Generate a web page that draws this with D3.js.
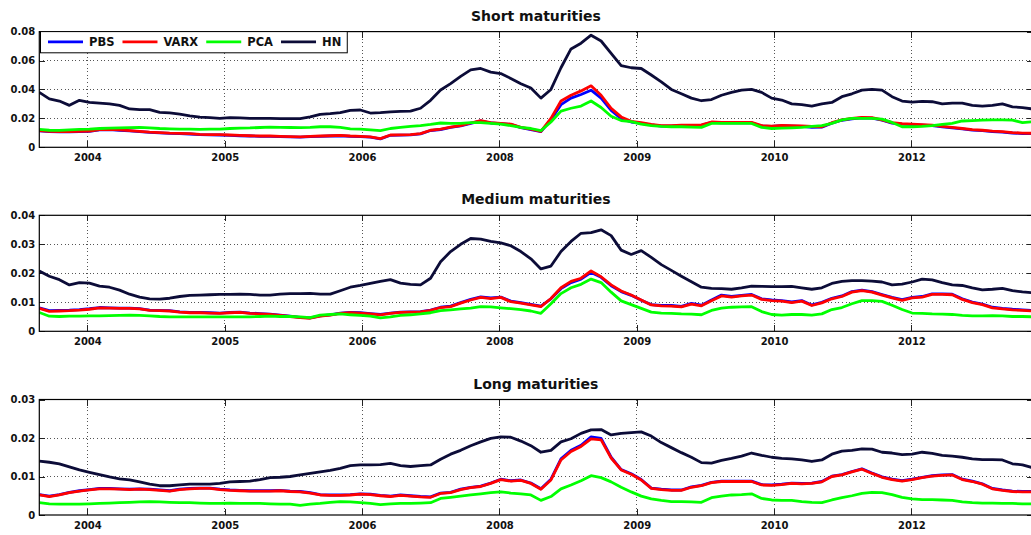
<!DOCTYPE html>
<html><head><meta charset="utf-8">
<script src="https://cdn.jsdelivr.net/npm/d3@7"></script>
<style>
html,body{margin:0;padding:0;background:#fff;}
svg{display:block;font-family:"DejaVu Sans",sans-serif;font-weight:bold;}
</style></head>
<body><svg id="chart" width="1031" height="535"></svg>
<script>
// ---------- DATA ----------
const seriesNames = ["PBS", "VARX", "PCA", "HN"];
const panelTitles = ["Short maturities", "Medium maturities", "Long maturities"];
const xTickPos = [4.79, 18.48, 32.17, 45.86, 59.55, 73.24, 86.93];
const xTickLabels = ["2004", "2005", "2006", "2008", "2009", "2010", "2012"];
const yTicksShort = [0, 0.02, 0.04, 0.06, 0.08];
const yTicksMedium = [0, 0.01, 0.02, 0.03, 0.04];
const yTicksLong = [0, 0.01, 0.02, 0.03];
const yTickLabelsShort = ["0", "0.02", "0.04", "0.06", "0.08"];
const yTickLabelsMedium = ["0", "0.01", "0.02", "0.03", "0.04"];
const yTickLabelsLong = ["0", "0.01", "0.02", "0.03"];

const shortPBS = [
0.0113,0.0108,0.0106,0.0106,0.0108,0.011,0.012,0.0122,0.0118,0.0113,
0.0108,0.0103,0.01,0.0096,0.0094,0.0092,0.0088,0.0086,0.0085,0.0083,
0.008,0.0078,0.0076,0.0076,0.0074,0.0072,0.007,0.0074,0.0076,0.0078,
0.008,0.0076,0.0074,0.007,0.0058,0.0083,0.0084,0.0086,0.0093,0.0116,
0.0123,0.0138,0.0148,0.0166,0.0183,0.0168,0.0163,0.0158,0.0136,0.0123,
0.0108,0.019,0.0295,0.034,0.0365,0.0395,0.034,0.0255,0.0198,0.0175,
0.0166,0.0155,0.0147,0.0147,0.0151,0.0151,0.0152,0.0172,0.0169,0.0169,
0.0169,0.0169,0.0147,0.0144,0.0149,0.0147,0.0145,0.0138,0.0139,0.0167,
0.0187,0.0197,0.0204,0.0202,0.0187,0.0167,0.016,0.0157,0.0153,0.015,
0.0142,0.0135,0.0127,0.0119,0.0115,0.0109,0.0105,0.0099,0.0095,0.0094];
const shortVARX = [
0.0115,0.011,0.0108,0.0108,0.011,0.0112,0.0122,0.0124,0.012,0.0115,
0.011,0.0105,0.0102,0.0098,0.0096,0.0094,0.009,0.0088,0.0087,0.0085,
0.0082,0.008,0.0078,0.0078,0.0076,0.0074,0.0072,0.0076,0.0078,0.008,
0.0082,0.0078,0.0076,0.0072,0.006,0.0085,0.0086,0.0088,0.0095,0.0118,
0.0125,0.014,0.015,0.0168,0.0185,0.017,0.0165,0.016,0.0138,0.0125,
0.011,0.020,0.032,0.036,0.039,0.0425,0.036,0.027,0.021,0.018,
0.017,0.0158,0.015,0.015,0.0154,0.0154,0.0155,0.0175,0.0172,0.0172,
0.0172,0.0172,0.015,0.0147,0.0152,0.015,0.0148,0.0145,0.0142,0.017,
0.019,0.020,0.0207,0.0205,0.019,0.017,0.0163,0.016,0.0156,0.0153,
0.0145,0.0138,0.013,0.0122,0.0118,0.0112,0.0108,0.0102,0.0098,0.0097];
const shortPCA = [
0.0124,0.0118,0.0117,0.012,0.0124,0.0126,0.013,0.0132,0.0134,0.0136,
0.0138,0.0135,0.013,0.0128,0.0126,0.0125,0.0124,0.0125,0.0126,0.013,
0.0133,0.0134,0.0137,0.014,0.0138,0.0137,0.0136,0.0138,0.0142,0.0142,
0.0138,0.0128,0.0125,0.012,0.0115,0.013,0.0138,0.0145,0.015,0.0158,
0.0168,0.0166,0.0165,0.017,0.017,0.0165,0.016,0.015,0.0138,0.013,
0.0115,0.0175,0.025,0.027,0.0285,0.032,0.0275,0.0215,0.0185,0.0177,
0.016,0.015,0.0145,0.0142,0.0142,0.014,0.0138,0.0165,0.0166,0.0165,
0.0165,0.0165,0.0138,0.013,0.0132,0.0135,0.0138,0.0145,0.015,0.0165,
0.019,0.020,0.020,0.020,0.0195,0.0172,0.0142,0.0142,0.0145,0.015,
0.0158,0.0165,0.0182,0.0185,0.0188,0.0189,0.0189,0.0188,0.017,0.0177];
const shortHN = [
0.038,0.0335,0.032,0.029,0.0325,0.031,0.0305,0.030,0.029,0.0265,
0.026,0.026,0.0242,0.0238,0.023,0.0218,0.0208,0.0205,0.020,0.0205,
0.0203,0.020,0.020,0.020,0.0198,0.0198,0.0198,0.021,0.0228,0.0233,
0.024,0.0255,0.0258,0.0237,0.024,0.0245,0.0248,0.025,0.027,0.0325,
0.0396,0.044,0.049,0.0535,0.0545,0.052,0.051,0.0476,0.044,0.041,
0.034,0.040,0.055,0.068,0.072,0.0775,0.0735,0.065,0.0565,0.055,
0.0545,0.050,0.0453,0.040,0.037,0.034,0.0322,0.033,0.036,0.038,
0.0396,0.040,0.038,0.034,0.0327,0.030,0.0295,0.0285,0.030,0.031,
0.035,0.037,0.0395,0.040,0.0395,0.035,0.032,0.0312,0.0318,0.0315,
0.030,0.0305,0.0305,0.029,0.0285,0.029,0.030,0.028,0.0275,0.0265];

const mediumPBS = [
0.0081,0.0071,0.0072,0.0073,0.0075,0.0078,0.0082,0.0081,0.008,0.008,
0.0078,0.0073,0.0072,0.0071,0.0067,0.0065,0.0065,0.0064,0.0063,0.0065,
0.0066,0.0063,0.0061,0.0059,0.0056,0.0052,0.0048,0.0046,0.0053,0.0057,
0.0063,0.0065,0.0064,0.0061,0.0058,0.0063,0.0066,0.0067,0.0068,0.0073,
0.0083,0.0087,0.0099,0.011,0.0119,0.0115,0.0118,0.0104,0.0099,0.0093,
0.0087,0.0112,0.0147,0.0168,0.018,0.0203,0.0186,0.0157,0.0137,0.0124,
0.0107,0.0092,0.0089,0.0089,0.0086,0.0096,0.009,0.0108,0.0125,0.012,
0.0124,0.0127,0.0112,0.0108,0.0106,0.0101,0.0106,0.0091,0.01,0.0114,
0.0122,0.0137,0.0142,0.0137,0.0127,0.0117,0.0109,0.0117,0.012,0.0129,
0.0129,0.0128,0.0112,0.0101,0.0094,0.0083,0.0079,0.0076,0.0074,0.0072];
const mediumVARX = [
0.0079,0.0069,0.007,0.0071,0.0073,0.0076,0.0081,0.008,0.0079,0.0079,
0.0077,0.0072,0.0071,0.007,0.0066,0.0064,0.0064,0.0063,0.0062,0.0064,
0.0065,0.0062,0.006,0.0058,0.0055,0.0051,0.0047,0.0045,0.0052,0.0056,
0.0062,0.0064,0.0063,0.006,0.0057,0.0062,0.0065,0.0066,0.0067,0.0072,
0.0082,0.0085,0.0097,0.0108,0.0117,0.0113,0.0117,0.0102,0.0097,0.0091,
0.0085,0.0113,0.015,0.0172,0.0183,0.0208,0.0188,0.016,0.0139,0.0125,
0.0108,0.0091,0.0088,0.0087,0.0084,0.0094,0.0088,0.0105,0.0122,0.0118,
0.0122,0.0125,0.011,0.0106,0.0104,0.0099,0.0104,0.0089,0.0098,0.0112,
0.012,0.0135,0.014,0.0135,0.0125,0.0115,0.0107,0.0115,0.0118,0.0127,
0.0127,0.0126,0.011,0.0099,0.0092,0.0081,0.0077,0.0074,0.0072,0.007];
const mediumPCA = [
0.0065,0.0052,0.0051,0.0052,0.0052,0.0053,0.0053,0.0054,0.0055,0.0056,
0.0055,0.0053,0.0051,0.005,0.005,0.005,0.005,0.005,0.005,0.005,
0.005,0.005,0.0051,0.0052,0.0051,0.0051,0.005,0.0047,0.0056,0.0058,
0.006,0.0057,0.0055,0.0052,0.0046,0.005,0.0055,0.0057,0.006,0.0064,
0.0071,0.0074,0.0077,0.008,0.0085,0.0084,0.0081,0.0078,0.0075,0.007,
0.0062,0.0095,0.013,0.015,0.0162,0.018,0.0168,0.0135,0.0105,0.0092,
0.0079,0.0066,0.0063,0.0062,0.006,0.0059,0.0057,0.0072,0.008,0.0083,
0.0084,0.0085,0.0068,0.0058,0.0056,0.0058,0.0058,0.0056,0.006,0.0075,
0.0082,0.0095,0.0106,0.0106,0.0103,0.009,0.0075,0.0063,0.0062,0.006,
0.0059,0.0058,0.0055,0.0053,0.0053,0.0054,0.0053,0.0051,0.0051,0.005];
const mediumHN = [
0.0208,0.019,0.0178,0.016,0.0168,0.0166,0.0156,0.0152,0.0142,0.0128,
0.0118,0.0112,0.0111,0.0114,0.012,0.0124,0.0125,0.0126,0.0127,0.0127,
0.0128,0.0127,0.0125,0.0125,0.0128,0.013,0.013,0.0131,0.0128,0.0128,
0.014,0.0152,0.0158,0.0165,0.0172,0.0178,0.0166,0.0162,0.016,0.0183,
0.024,0.0275,0.030,0.032,0.0318,0.031,0.0305,0.0295,0.0275,0.025,
0.0215,0.0225,0.0275,0.031,0.0338,0.034,0.035,0.033,0.028,0.0265,
0.0278,0.0255,0.023,0.021,0.019,0.0171,0.0152,0.0148,0.0147,0.0145,
0.015,0.0156,0.0155,0.0154,0.0154,0.0155,0.015,0.0145,0.015,0.0165,
0.0172,0.0175,0.0175,0.0173,0.017,0.016,0.0163,0.017,0.018,0.0177,
0.0168,0.016,0.0158,0.015,0.0143,0.0145,0.0148,0.014,0.0136,0.0133];

const longPBS = [
0.0053,0.0049,0.0053,0.0059,0.0063,0.0066,0.0069,0.0069,0.0068,0.0067,
0.0068,0.0067,0.0065,0.0063,0.0067,0.0069,0.007,0.007,0.0067,0.0065,
0.0064,0.0063,0.0063,0.0063,0.0064,0.0062,0.0061,0.0058,0.0053,0.0052,
0.0052,0.0053,0.0055,0.0054,0.0051,0.0049,0.0052,0.005,0.0048,0.0047,
0.0057,0.0059,0.0067,0.0072,0.0075,0.0083,0.0093,0.0089,0.0091,0.0083,
0.0068,0.0093,0.0146,0.0168,0.0181,0.0203,0.0199,0.015,0.0118,0.0107,
0.0092,0.007,0.0067,0.0065,0.0065,0.0073,0.0077,0.0085,0.0088,0.0088,
0.0088,0.0088,0.0079,0.0078,0.008,0.0083,0.0082,0.0083,0.0087,0.0101,
0.0105,0.0113,0.012,0.0109,0.0099,0.0093,0.0089,0.0093,0.0098,0.0102,
0.0104,0.0105,0.0093,0.0088,0.0081,0.0069,0.0065,0.0062,0.0061,0.0061];
const longVARX = [
0.0052,0.0048,0.0052,0.0058,0.0062,0.0065,0.0068,0.0068,0.0067,0.0066,
0.0067,0.0066,0.0064,0.0062,0.0066,0.0068,0.0069,0.0069,0.0066,0.0064,
0.0063,0.0062,0.0062,0.0062,0.0063,0.0061,0.006,0.0057,0.0052,0.0051,
0.0051,0.0052,0.0054,0.0053,0.005,0.0048,0.0051,0.0049,0.0047,0.0046,
0.0056,0.0058,0.0066,0.0071,0.0074,0.0082,0.0092,0.0088,0.009,0.0082,
0.0067,0.0091,0.0143,0.0165,0.0178,0.0198,0.0195,0.0148,0.0117,0.0106,
0.0091,0.0069,0.0066,0.0064,0.0064,0.0072,0.0076,0.0084,0.0087,0.0087,
0.0087,0.0087,0.0078,0.0077,0.0079,0.0082,0.0081,0.0082,0.0086,0.01,
0.0104,0.0112,0.0119,0.0108,0.0098,0.0092,0.0088,0.0092,0.0097,0.0101,
0.0103,0.0104,0.0092,0.0087,0.008,0.0068,0.0064,0.0061,0.006,0.006];
const longPCA = [
0.0032,0.0029,0.0028,0.0028,0.0028,0.0029,0.003,0.0031,0.0032,0.0033,
0.0034,0.0035,0.0034,0.0033,0.0032,0.0032,0.0031,0.003,0.003,0.0031,
0.003,0.003,0.003,0.0029,0.0028,0.0028,0.0025,0.0028,0.003,0.0033,
0.0035,0.0034,0.0032,0.003,0.0027,0.0029,0.003,0.003,0.0031,0.0032,
0.0043,0.0046,0.0049,0.0052,0.0055,0.0058,0.006,0.0057,0.0055,0.0052,
0.0038,0.0048,0.0068,0.0078,0.0089,0.0102,0.0097,0.0086,0.0072,0.006,
0.0049,0.0042,0.0038,0.0035,0.0035,0.0034,0.0033,0.0045,0.0049,0.0052,
0.0053,0.0055,0.0043,0.0039,0.0038,0.0038,0.0035,0.0033,0.0032,0.0039,
0.0045,0.005,0.0056,0.0059,0.0058,0.0053,0.0046,0.0042,0.004,0.004,
0.0039,0.0038,0.0034,0.0032,0.0031,0.0031,0.003,0.003,0.0029,0.0029];
const longHN = [
0.014,0.0137,0.0133,0.0125,0.0117,0.0111,0.0105,0.0099,0.0094,0.0091,
0.0086,0.008,0.0076,0.0076,0.0078,0.008,0.008,0.008,0.0082,0.0086,
0.0087,0.0088,0.0092,0.0097,0.0098,0.01,0.0104,0.0108,0.0112,0.0116,
0.0121,0.0128,0.013,0.013,0.0131,0.0134,0.0128,0.0126,0.0128,0.013,
0.0145,0.0158,0.0168,0.018,0.019,0.0199,0.0203,0.0202,0.0192,0.018,
0.0163,0.0168,0.019,0.0198,0.0212,0.0221,0.0222,0.0208,0.0212,0.0214,
0.0216,0.0205,0.0188,0.0175,0.0162,0.015,0.0136,0.0135,0.0142,0.0147,
0.0153,0.0161,0.0155,0.015,0.0147,0.0146,0.0143,0.0139,0.0143,0.0158,
0.0166,0.0168,0.0172,0.0171,0.0163,0.0161,0.0157,0.0158,0.0163,0.016,
0.0155,0.0153,0.015,0.0146,0.0144,0.0144,0.0143,0.0133,0.013,0.0123];

// ---------- STYLE / LAYOUT ----------
const colors = ["#0000ff", "#ff0000", "#00ff00", "#0c0c38"];
const plotLeft = 39.3, plotRight = 1032.5;
const panels = [
  {title: panelTitles[0], ticks: yTicksShort, labels: yTickLabelsShort, series: [shortPBS, shortVARX, shortPCA, shortHN], top: 31.6, bottom: 147.3},
  {title: panelTitles[1], ticks: yTicksMedium, labels: yTickLabelsMedium, series: [mediumPBS, mediumVARX, mediumPCA, mediumHN], top: 215.3, bottom: 331.3},
  {title: panelTitles[2], ticks: yTicksLong, labels: yTickLabelsLong, series: [longPBS, longVARX, longPCA, longHN], top: 399.5, bottom: 515}
];

const svg = d3.select("#chart");
const n = shortHN.length;
const x = d3.scaleLinear().domain([0, n - 1]).range([plotLeft, plotRight]);

panels.forEach((p, pi) => {
  const y = d3.scaleLinear().domain([0, d3.max(p.ticks)]).range([p.bottom, p.top]);
  const g = svg.append("g");
  const clipId = "clip" + pi;
  svg.append("clipPath").attr("id", clipId).append("rect")
    .attr("x", plotLeft).attr("y", p.top - 3).attr("width", plotRight - plotLeft).attr("height", p.bottom - p.top + 3);

  // grid
  const grid = g.append("g").attr("stroke", "#555").attr("stroke-width", 1)
    .attr("stroke-dasharray", "1,2.6").attr("shape-rendering", "crispEdges");
  grid.selectAll("line.v").data(xTickPos).join("line").attr("class", "v")
    .attr("x1", d => x(d)).attr("x2", d => x(d)).attr("y1", p.top).attr("y2", p.bottom);
  grid.selectAll("line.h").data(p.ticks.slice(1, -1)).join("line").attr("class", "h")
    .attr("x1", plotLeft).attr("x2", plotRight).attr("y1", d => y(d)).attr("y2", d => y(d));

  // axes
  const fmtX = (d, i) => xTickLabels[i];
  const fmtY = (d, i) => p.labels[i];
  g.append("g").attr("transform", `translate(0,${p.bottom})`)
    .call(d3.axisBottom(x).tickValues(xTickPos).tickFormat(fmtX).tickSizeInner(-6).tickSizeOuter(0).tickPadding(7));
  g.append("g").attr("transform", `translate(0,${p.top})`)
    .call(d3.axisTop(x).tickValues(xTickPos).tickFormat("").tickSizeInner(-6).tickSizeOuter(0));
  g.append("g").attr("transform", `translate(${plotLeft},0)`)
    .call(d3.axisLeft(y).tickValues(p.ticks).tickFormat(fmtY).tickSizeInner(-6).tickSizeOuter(0).tickPadding(4));
  g.append("g").attr("transform", `translate(${plotRight},0)`)
    .call(d3.axisRight(y).tickValues(p.ticks).tickFormat("").tickSizeInner(-6).tickSizeOuter(0));
  g.selectAll(".domain").remove();
  g.selectAll(".tick line").attr("stroke", "#222").attr("shape-rendering", "crispEdges");
  g.selectAll(".tick text").attr("font-family", "DejaVu Sans").attr("font-weight", "bold")
    .attr("font-size", 10).attr("fill", "#111");

  // lines
  const lineGen = d3.line().x((d, i) => x(i)).y(d => y(d));
  const lg = g.append("g").attr("clip-path", `url(#${clipId})`);
  p.series.forEach((s, si) => {
    lg.append("path").datum(s).attr("d", lineGen).attr("fill", "none")
      .attr("stroke", colors[si]).attr("stroke-width", 2.8).attr("stroke-linejoin", "round");
  });

  // box
  g.append("rect").attr("x", plotLeft).attr("y", p.top).attr("width", plotRight - plotLeft).attr("height", p.bottom - p.top)
    .attr("fill", "none").attr("stroke", "#000").attr("stroke-width", 1.2);

  // title
  svg.append("text").attr("x", (plotLeft + plotRight) / 2).attr("y", p.top - 11)
    .attr("text-anchor", "middle").attr("font-size", 14).attr("font-weight", "bold").attr("fill", "#111")
    .text(p.title);
});

// legend
const leg = svg.append("g");
const legBox = leg.append("rect").attr("x", 40.5).attr("y", 31.6).attr("height", 21.2)
  .attr("fill", "#fff").attr("stroke", "#000").attr("stroke-width", 1);
let cx = 48;
seriesNames.forEach((name, i) => {
  leg.append("line").attr("x1", cx).attr("x2", cx + 35).attr("y1", 41.8).attr("y2", 41.8)
    .attr("stroke", colors[i]).attr("stroke-width", 2.8);
  const t = leg.append("text").attr("x", cx + 41).attr("y", 46).attr("font-size", 11.5)
    .attr("font-weight", "bold").attr("fill", "#111").text(name);
  cx = cx + 41 + t.node().getComputedTextLength() + 8;
});
legBox.attr("width", cx - 40.5 - 2);
</script></body></html>
